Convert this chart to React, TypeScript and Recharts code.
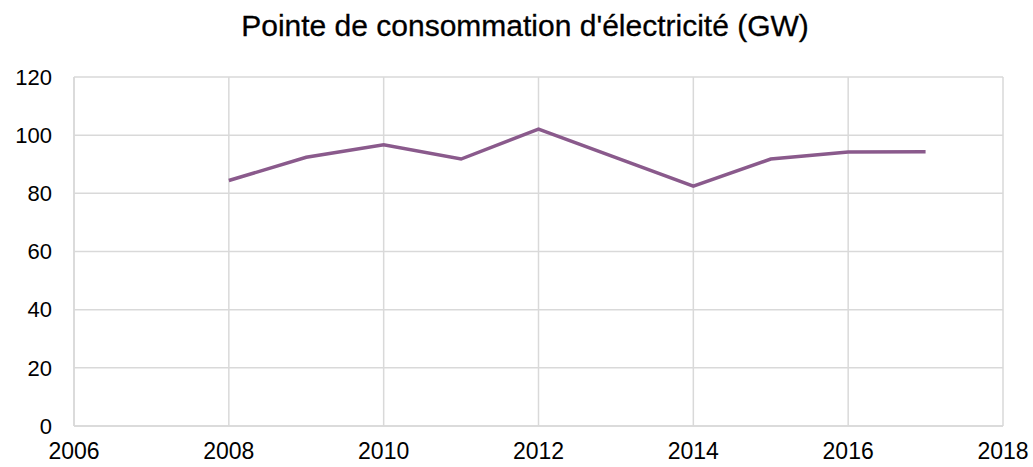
import React from "react"
import { Line, LineChart, XAxis, YAxis, CartesianGrid } from "recharts"

const years = [2008, 2009, 2010, 2011, 2012, 2013, 2014, 2015, 2016, 2017]
const peakGW = [84.4, 92.4, 96.7, 91.8, 102.1, 92.3, 82.5, 91.8, 94.2, 94.3]
const xTicks = [2006, 2008, 2010, 2012, 2014, 2016, 2018]
const yTicks = [0, 20, 40, 60, 80, 100, 120]

const data = years.map((year, i) => ({ year, peak: peakGW[i] }))

const font = "'Liberation Sans', Arial, sans-serif"

export default function App() {
  return (
    <div style={{ position: "absolute", left: 0, top: 0, width: 1033, height: 467, background: "#fff" }}>
      <div
        style={{
          position: "absolute",
          top: 9,
          left: 0,
          width: 1050,
          textAlign: "center",
          fontFamily: font,
          fontSize: 30,
          color: "#000",
          WebkitTextStroke: "0.3px #000",
        }}
      >
        Pointe de consommation d'électricité (GW)
      </div>
      <LineChart width={1033} height={467} data={data} margin={{ top: 77, right: 30, bottom: 0, left: 0 }}>
        <CartesianGrid stroke="#d9d9d9" strokeWidth={1.5} />
        <XAxis
          dataKey="year"
          type="number"
          domain={[2006, 2018]}
          ticks={xTicks}
          height={41}
          tickLine={false}
          tickSize={0}
          tickMargin={17}
          axisLine={{ stroke: "#d9d9d9", strokeWidth: 1.5 }}
          tick={{ fill: "#000", fontSize: 23, fontFamily: font }}
        />
        <YAxis
          domain={[0, 120]}
          ticks={yTicks}
          width={74}
          tickLine={false}
          tickSize={0}
          tickMargin={22}
          axisLine={{ stroke: "#d9d9d9", strokeWidth: 1.5 }}
          tick={{ fill: "#000", fontSize: 22, fontFamily: font }}
        />
        <Line
          type="linear"
          dataKey="peak"
          stroke="#8a5a8c"
          strokeWidth={3.5}
          dot={false}
          isAnimationActive={false}
        />
      </LineChart>
    </div>
  )
}
